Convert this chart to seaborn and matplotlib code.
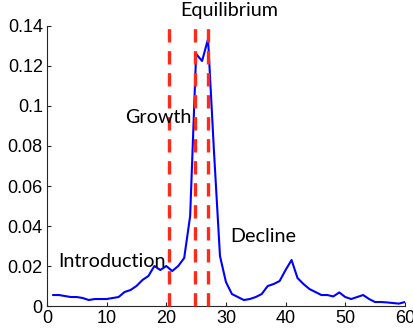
import matplotlib
matplotlib.use("Agg")
import matplotlib.pyplot as plt
import seaborn as sns
import pandas as pd

# Data
x_vals = list(range(1, 61))
y_vals = [0.0055, 0.0055, 0.005, 0.0045, 0.0045, 0.004, 0.003, 0.0035, 0.0035, 0.0035,
          0.004, 0.0045, 0.007, 0.008, 0.010, 0.013, 0.015, 0.020, 0.018, 0.020,
          0.0175, 0.020, 0.024, 0.045, 0.126, 0.1225, 0.1335, 0.077, 0.025, 0.012,
          0.006, 0.0045, 0.003, 0.0035, 0.0045, 0.006, 0.010, 0.011, 0.0125, 0.018,
          0.023, 0.014, 0.011, 0.0085, 0.007, 0.0055, 0.0055, 0.0048, 0.0068, 0.0045,
          0.0035, 0.0045, 0.0055, 0.0035, 0.002, 0.002, 0.0018, 0.0015, 0.0012, 0.002]
phase_bounds = [20.5, 24.8, 27.0]
phase_labels = ["Introduction", "Growth", "Equilibrium", "Decline"]
phase_label_pos = [(10.9, 0.0225), (18.6, 0.094), (30.6, 0.1475), (36.3, 0.035)]
x_ticks = [0, 10, 20, 30, 40, 50, 60]
y_ticks = [0, 0.02, 0.04, 0.06, 0.08, 0.1, 0.12, 0.14]
y_tick_labels = ["0", "0.02", "0.04", "0.06", "0.08", "0.1", "0.12", "0.14"]

sns.set_style("ticks")
plt.rcParams['font.family'] = ['Liberation Sans', 'DejaVu Sans']

df = pd.DataFrame({"x": x_vals, "y": y_vals})

fig = plt.figure(figsize=(4.14, 3.33), dpi=100)
ax = fig.add_axes([0.1135, 0.081, 0.8645, 0.841])

sns.lineplot(data=df, x="x", y="y", ax=ax, color="#0000ff", linewidth=1.5)

for b in phase_bounds:
    ax.plot([b, b], [0, 0.14], color="#ff2a1a", linewidth=2.4,
            linestyle=(0, (4, 2.6)), clip_on=False, zorder=3)

for lab, (tx, ty) in zip(phase_labels, phase_label_pos):
    ax.text(tx, ty, lab, ha="center", va="center", fontsize=14.2,
            family=["Lato", "DejaVu Sans"], color="black", clip_on=False)

ax.set_xlim(0, 60)
ax.set_ylim(0, 0.14)
ax.set_xticks(x_ticks)
ax.set_yticks(y_ticks)
ax.set_yticklabels(y_tick_labels)
ax.set_xlabel("")
ax.set_ylabel("")
ax.tick_params(direction="in", length=3, width=0.8, labelsize=13, colors="#262626",
               labelcolor="black", pad=3)
sns.despine(ax=ax)
for s in ["left", "bottom"]:
    ax.spines[s].set_linewidth(0.8)
    ax.spines[s].set_color("#262626")

fig.savefig("out.png", dpi=100)
